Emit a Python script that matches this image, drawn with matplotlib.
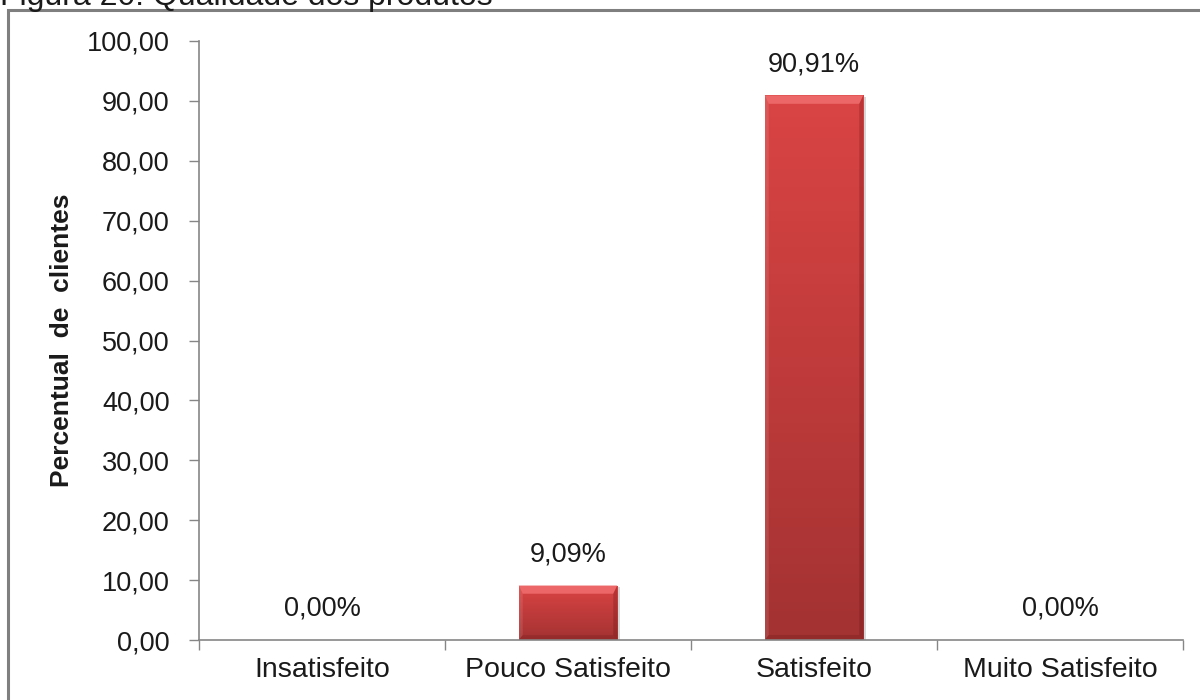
import numpy as np
import matplotlib
matplotlib.use('Agg')
import matplotlib.pyplot as plt
from matplotlib.patches import Rectangle, Polygon
from matplotlib.colors import LinearSegmentedColormap

plt.rcParams.update({'font.family': ['Liberation Sans', 'DejaVu Sans']})

# Dados da pesquisa de satisfação
categorias = ['Insatisfeito', 'Pouco Satisfeito', 'Satisfeito', 'Muito Satisfeito']
percentuais = [0.00, 9.09, 90.91, 0.00]
yticks = np.arange(0, 101, 10)

fig = plt.figure(figsize=(12, 7), dpi=100)
ax = fig.add_axes([199 / 1200, 1 - 640 / 700, 984 / 1200, 599 / 700])

x = np.arange(len(categorias))
largura = 0.40
barras = ax.bar(x, percentuais, width=largura, color='#c83a3a', zorder=2)

# Degradê vertical e chanfros das barras (efeito 3D)
cmap = LinearSegmentedColormap.from_list('verm', ['#a33232', '#c03b3b', '#da4444'])
grad = np.linspace(0, 1, 256).reshape(-1, 1)
for b, v in zip(barras, percentuais):
    if v <= 0:
        continue
    x0, w = b.get_x(), b.get_width()
    # sombra cinza à direita
    ax.add_patch(Rectangle((x0 + 0.006, 0), w + 0.006, v - 0.3, facecolor='#b0b0b0',
                           alpha=0.5, edgecolor='none', zorder=1.5))
    im = ax.imshow(grad, cmap=cmap, origin='lower', aspect='auto',
                   extent=[x0, x0 + w, 0, v], zorder=3)
    im.set_clip_path(b)
    h = min(1.4, v * 0.15)
    d = 0.016
    # topo claro
    ax.add_patch(Polygon([[x0, v], [x0 + w, v], [x0 + w - d, v - h], [x0 + d, v - h]],
                         closed=True, facecolor='#ec6767', edgecolor='none', zorder=5))
    # lateral esquerda
    ax.add_patch(Polygon([[x0, v], [x0 + d, v - h], [x0 + d, h * 0.6], [x0, 0]],
                         closed=True, facecolor='#ffffff', alpha=0.10,
                         edgecolor='none', zorder=5))
    # lateral direita
    ax.add_patch(Polygon([[x0 + w, v], [x0 + w - d, v - h], [x0 + w - d, h * 0.6], [x0 + w, 0]],
                         closed=True, facecolor='#5a1010', alpha=0.25,
                         edgecolor='none', zorder=5))
    # base escura
    ax.add_patch(Polygon([[x0, 0], [x0 + w, 0], [x0 + w - d, h * 0.6], [x0 + d, h * 0.6]],
                         closed=True, facecolor='#5a1010', alpha=0.2,
                         edgecolor='none', zorder=5))

# Rótulos de valor
for xi, v in zip(x, percentuais):
    ax.annotate(f'{v:.2f}%'.replace('.', ','), xy=(xi, v), xytext=(0, 13),
                textcoords='offset points', ha='center', va='bottom',
                fontsize=19.5, color='#1a1a1a')

ax.set_xlim(-0.5, len(categorias) - 0.5)
ax.set_ylim(0, 100)
ax.set_yticks(yticks)
ax.set_yticklabels([f'{t:.2f}'.replace('.', ',') for t in yticks])
ax.set_xticks(x)
ax.set_xticklabels(categorias)
ax.set_xticks(np.arange(-0.5, len(categorias)), minor=True)

ax.tick_params(axis='y', length=7, width=1, color='#868686', pad=14,
               labelsize=19.5, labelcolor='#1a1a1a')
ax.tick_params(axis='x', which='major', length=0, pad=12,
               labelsize=20.5, labelcolor='#1a1a1a')
ax.tick_params(axis='x', which='minor', length=7, width=1, color='#868686')

for s in ['top', 'right']:
    ax.spines[s].set_visible(False)
for s in ['left', 'bottom']:
    ax.spines[s].set_color('#868686')
    ax.spines[s].set_linewidth(1.2)
    ax.spines[s].set_zorder(7)

ax.set_ylabel('Percentual  de  clientes', fontsize=19, fontweight='bold',
              color='#1a1a1a', labelpad=9)

# Moldura e legenda da figura
fig.patches.append(Rectangle((8 / 1200, -0.01), 1.0, 1 - 10 / 700 + 0.01,
                             transform=fig.transFigure, fill=False,
                             edgecolor='#7f7f7f', linewidth=2.2))
fig.text(0.0, 1 - 5 / 700, 'Figura 20: Qualidade dos produtos', fontsize=23,
         ha='left', va='baseline', color='#1a1a1a')

fig.savefig('out.png', dpi=100)
